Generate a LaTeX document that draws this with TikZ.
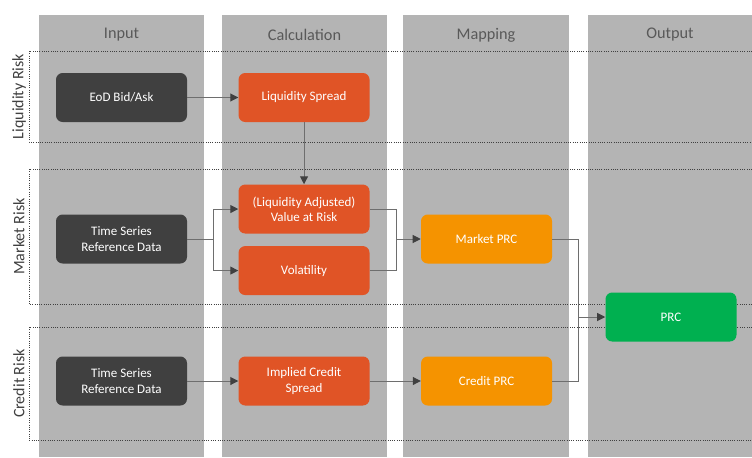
\documentclass[tikz,border=0pt]{standalone}
\usepackage{fontspec}
\setmainfont{Carlito}
\usepackage{xcolor}
\usetikzlibrary{arrows.meta, positioning}

\definecolor{colGray}{HTML}{B4B4B4}
\definecolor{headGray}{HTML}{595959}
\definecolor{inputDark}{HTML}{404040}
\definecolor{calcRed}{HTML}{E05426}
\definecolor{mapOrange}{HTML}{F59300}
\definecolor{outGreen}{HTML}{00B050}
\definecolor{lineGray}{HTML}{6E6E6E}

\begin{document}
\begin{tikzpicture}[
  x=0.75pt, y=-0.75pt,
  font=\fontsize{9.75}{11.5}\selectfont,
  node distance=46.5pt and 38.25pt,
  colBand/.style={fill=colGray},
  colHead/.style={text=headGray, font=\fontsize{12.2}{14}\selectfont},
  laneBox/.style={draw=inputDark, densely dotted, line width=0.7pt},
  laneLabel/.style={text=inputDark, rotate=90, font=\fontsize{12}{14}\selectfont},
  stepBox/.style={rectangle, rounded corners=5pt, minimum width=98.25pt, minimum height=36.75pt, text=white, align=center, inner sep=2pt},
  inBox/.style={stepBox, fill=inputDark},
  calcBox/.style={stepBox, fill=calcRed},
  mapBox/.style={stepBox, fill=mapOrange},
  outBox/.style={stepBox, fill=outGreen},
  link/.style={draw=lineGray, line width=0.75pt},
  flow/.style={link, -{Triangle[length=6pt, width=6pt, color=inputDark]}}
]
  \useasboundingbox (0,0) rectangle (752,457);

  % columns
  \fill [colBand] (39,15) rectangle (204,457);
  \fill [colBand] (222,15) rectangle (387,457);
  \fill [colBand] (403,15) rectangle (569,457);
  \fill [colBand] (588,15) rectangle (752,457);
  \node [colHead] (hInput) at (121.5,35) {Input};
  \node [colHead] (hCalc) at (304.5,35) {Calculation};
  \node [colHead] (hMap) at (486,35) {Mapping};
  \node [colHead] (hOut) at (670,35) {Output};

  % risk lanes
  \draw [laneBox] (752,51) -| (29,142) -- (752,142);
  \draw [laneBox] (752,169) -| (29,304) -- (752,304);
  \draw [laneBox] (752,327) -| (29,440) -- (752,440);
  \node [laneLabel] (lLiq) at (19,96.5) {Liquidity Risk};
  \node [laneLabel] (lMkt) at (19,236.5) {Market Risk};
  \node [laneLabel] (lCrd) at (19,383.5) {Credit Risk};

  % liquidity risk
  \node [inBox] (eod) at (121.5,97.5) {EoD Bid/Ask};
  \node [calcBox] (lspread) [right=of eod] {Liquidity Spread};

  % market risk
  \node [calcBox] (var) [below=of lspread] {(Liquidity Adjusted)\\Value at Risk};
  \node [calcBox] (vol) [below=9pt of var] {Volatility};
  \node [inBox] (tsMarket) at (121.5,239) {Time Series\\Reference Data};
  \node [mapBox] (mprc) at (486.5,239) {Market PRC};

  % credit risk
  \node [inBox] (tsCredit) at (121.5,381) {Time Series\\Reference Data};
  \node [calcBox] (ics) [right=of tsCredit] {Implied Credit\\Spread};
  \node [mapBox] (cprc) [right=of ics] {Credit PRC};

  % output
  \node [outBox] (prc) at (671,317) {PRC};

  \coordinate (splitM) at (213,239);
  \coordinate (joinM) at (396,239);
  \coordinate (joinP) at (578,317);

  \draw [flow] (eod) -- (lspread);
  \draw [flow] (lspread) -- (var);
  \draw [link] (tsMarket) -- (splitM);
  \draw [flow] (splitM) |- (var);
  \draw [flow] (splitM) |- (vol);
  \draw [link] (var.east) -| (joinM);
  \draw [link] (vol.east) -| (joinM);
  \draw [flow] (joinM) -- (mprc);
  \draw [flow] (tsCredit) -- (ics);
  \draw [flow] (ics) -- (cprc);
  \draw [link] (mprc.east) -| (joinP);
  \draw [link] (cprc.east) -| (joinP);
  \draw [flow] (joinP) -- (prc);
\end{tikzpicture}
\end{document}
